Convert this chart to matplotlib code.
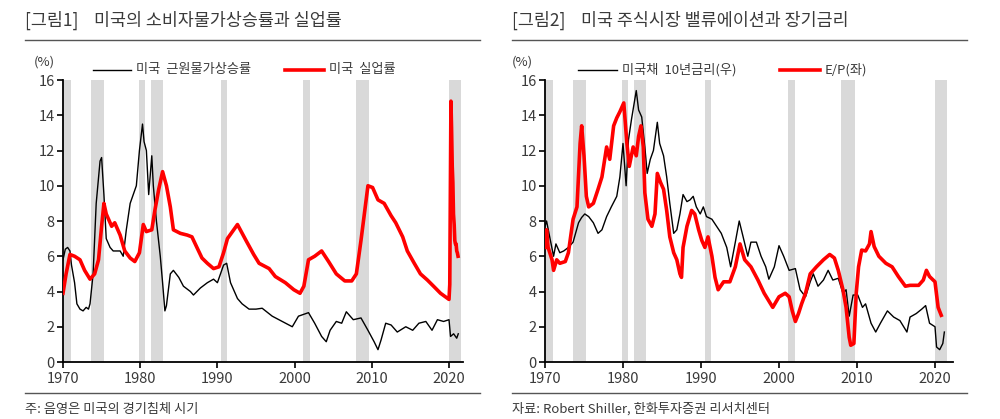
import matplotlib
matplotlib.use("Agg")
import matplotlib.pyplot as plt
from matplotlib.lines import Line2D

plt.rcParams["font.family"] = ["Noto Sans CJK KR", "DejaVu Sans"]

# US recessions (shaded)
recessions = [(1970.0, 1971.0), (1973.6, 1975.3), (1979.9, 1980.6), (1981.4, 1982.95),
              (1990.5, 1991.3), (2001.1, 2002.0), (2007.9, 2009.7), (2020.0, 2021.6)]

# [그림1] core CPI inflation (black)
cpi_years = [1970.0, 1970.3, 1970.6, 1970.9, 1971.1, 1971.5, 1971.8, 1972.2, 1972.6, 1973.0,
             1973.3, 1973.5, 1973.9, 1974.3, 1974.8, 1975.0, 1975.3, 1975.6, 1976.1, 1976.5,
             1976.9, 1977.4, 1977.8, 1978.2, 1978.7, 1979.1, 1979.5, 1979.9, 1980.3, 1980.5,
             1980.8, 1981.1, 1981.5, 1981.7, 1982.1, 1982.6, 1982.9, 1983.2, 1983.4, 1983.9,
             1984.3, 1985.0, 1985.6, 1986.5, 1986.9, 1987.8, 1988.7, 1989.5, 1990.0, 1990.4,
             1990.8, 1991.2, 1991.7, 1992.6, 1993.2, 1994.1, 1995.0, 1995.8, 1997.1, 1998.4,
             1999.7, 2000.5, 2001.8, 2002.6, 2003.5, 2004.1, 2004.6, 2005.4, 2006.1, 2006.7,
             2007.6, 2008.6, 2009.5, 2010.3, 2010.8, 2011.2, 2011.8, 2012.5, 2013.3, 2014.4,
             2015.3, 2016.1, 2017.0, 2017.8, 2018.5, 2019.3, 2020.0, 2020.2, 2020.6, 2021.0,
             2021.2]
cpi_values = [5.8, 6.4, 6.5, 6.3, 5.5, 4.5, 3.3, 3.0, 2.9, 3.1,
              3.0, 3.3, 5.0, 9.0, 11.4, 11.6, 9.5, 7.0, 6.5, 6.3,
              6.3, 6.3, 6.0, 7.5, 9.0, 9.5, 10.0, 12.0, 13.5, 12.5,
              12.0, 9.5, 11.7, 10.0, 8.0, 6.0, 4.5, 2.9, 3.2, 5.0,
              5.2, 4.8, 4.3, 4.0, 3.8, 4.2, 4.5, 4.7, 4.5, 5.0,
              5.5, 5.6, 4.5, 3.6, 3.3, 3.0, 3.0, 3.05, 2.6, 2.3,
              2.0, 2.6, 2.8, 2.2, 1.45, 1.15, 1.8, 2.3, 2.2, 2.85,
              2.4, 2.5, 1.8, 1.15, 0.7, 1.25, 2.2, 2.1, 1.7, 2.0,
              1.8, 2.2, 2.3, 1.8, 2.4, 2.3, 2.4, 1.45, 1.6, 1.35,
              1.6]

# [그림1] unemployment rate (red)
unemp_years = [1970.0, 1970.4, 1970.9, 1971.5, 1972.2, 1972.8, 1973.5, 1974.1, 1974.6, 1975.0,
               1975.3, 1975.6, 1976.3, 1976.7, 1977.4, 1978.0, 1978.7, 1979.3, 1979.9, 1980.4,
               1980.8, 1981.5, 1981.9, 1982.4, 1982.9, 1983.4, 1983.9, 1984.3, 1985.2, 1986.1,
               1986.7, 1987.4, 1988.0, 1988.7, 1989.5, 1990.2, 1990.8, 1991.3, 1992.6, 1993.7,
               1994.7, 1995.4, 1996.7, 1997.5, 1998.8, 1999.9, 2000.7, 2001.2, 2001.8, 2002.6,
               2003.5, 2004.4, 2005.4, 2006.5, 2007.4, 2008.0, 2008.6, 2009.5, 2010.1, 2010.8,
               2011.6, 2012.5, 2013.1, 2014.0, 2014.6, 2015.5, 2016.3, 2017.2, 2018.0, 2018.9,
               2020.0, 2020.1, 2020.25, 2020.33, 2020.42, 2020.5, 2020.58, 2020.67, 2020.75, 2020.83,
               2020.92, 2021.0, 2021.08, 2021.17]
unemp_values = [3.9, 5.0, 6.1, 6.0, 5.8, 5.2, 4.7, 5.0, 5.8, 7.7,
                9.0, 8.4, 7.7, 7.9, 7.2, 6.3, 5.9, 5.7, 6.2, 7.8,
                7.4, 7.5, 8.6, 9.8, 10.8, 10.0, 8.8, 7.5, 7.3, 7.2,
                7.1, 6.45, 5.9, 5.6, 5.3, 5.4, 6.2, 7.0, 7.8, 6.9,
                6.1, 5.6, 5.3, 4.85, 4.5, 4.1, 3.9, 4.3, 5.8, 6.0,
                6.3, 5.7, 5.0, 4.6, 4.6, 5.0, 6.9, 10.0, 9.9, 9.2,
                9.0, 8.3, 7.9, 7.1, 6.3, 5.6, 5.0, 4.65, 4.3, 3.9,
                3.55, 4.4, 14.8, 13.3, 11.1, 10.2, 8.4, 7.8, 6.9, 6.7,
                6.7, 6.3, 6.2, 6.0]

# [그림2] US 10-year Treasury yield (black)
ust_years = [1970.0, 1970.2, 1970.6, 1971.1, 1971.4, 1971.9, 1972.4, 1973.0, 1973.6, 1974.3,
             1974.7, 1975.1, 1975.6, 1976.2, 1976.8, 1977.3, 1977.9, 1978.5, 1979.2, 1979.6,
             1980.0, 1980.4, 1980.7, 1981.1, 1981.7, 1982.0, 1982.4, 1982.8, 1983.1, 1983.5,
             1983.9, 1984.4, 1984.7, 1985.2, 1985.6, 1986.0, 1986.5, 1986.9, 1987.3, 1987.7,
             1988.2, 1988.6, 1989.0, 1989.4, 1989.9, 1990.3, 1990.7, 1991.4, 1992.0, 1992.6,
             1993.3, 1993.8, 1994.4, 1994.9, 1995.4, 1996.0, 1996.4, 1997.1, 1997.7, 1998.3,
             1998.7, 1999.4, 2000.0, 2000.6, 2001.3, 2002.1, 2002.7, 2003.4, 2004.0, 2004.4,
             2005.0, 2005.7, 2006.3, 2006.9, 2007.6, 2008.2, 2008.6, 2009.0, 2009.5, 2010.1,
             2010.7, 2011.1, 2011.8, 2012.4, 2013.0, 2013.9, 2014.7, 2015.5, 2016.4, 2016.8,
             2017.6, 2018.3, 2018.8, 2019.3, 2020.0, 2020.2, 2020.6, 2021.0, 2021.2]
ust_values = [7.7, 8.0, 7.1, 6.0, 6.7, 6.2, 6.3, 6.5, 6.8, 7.9,
              8.2, 8.4, 8.25, 7.9, 7.3, 7.5, 8.25, 8.8, 9.4, 10.5,
              12.4, 10.0, 12.6, 13.8, 15.4, 14.3, 13.9, 12.2, 10.7, 11.5,
              12.0, 13.6, 12.4, 11.7, 10.5, 9.0, 7.3, 7.5, 8.4, 9.5,
              9.1, 9.2, 9.4, 8.8, 8.4, 8.8, 8.25, 8.1, 7.7, 7.3,
              6.5, 5.4, 6.8, 8.0, 7.1, 6.0, 6.8, 6.8, 6.0, 5.4,
              4.7, 5.4, 6.6, 6.0, 5.2, 5.3, 4.1, 3.7, 4.55, 5.0,
              4.3, 4.65, 5.2, 4.65, 4.75, 3.9, 4.1, 2.6, 3.8, 3.8,
              3.1, 3.3, 2.2, 1.7, 2.2, 2.9, 2.55, 2.35, 1.7, 2.55,
              2.75, 3.0, 3.2, 2.2, 2.0, 0.85, 0.7, 1.05, 1.7]

# [그림2] S&P 500 earnings yield E/P (red)
ep_years = [1970.0, 1970.2, 1970.4, 1970.9, 1971.1, 1971.5, 1971.9, 1972.6, 1973.0, 1973.6,
            1974.1, 1974.5, 1974.7, 1975.0, 1975.3, 1975.6, 1976.2, 1976.8, 1977.3, 1977.9,
            1978.3, 1978.8, 1979.2, 1979.6, 1980.1, 1980.5, 1980.8, 1981.3, 1981.7, 1982.0,
            1982.3, 1982.6, 1982.8, 1983.2, 1983.7, 1984.1, 1984.4, 1984.8, 1985.2, 1985.6,
            1986.0, 1986.5, 1986.9, 1987.3, 1987.5, 1987.7, 1988.2, 1988.8, 1989.2, 1989.7,
            1990.1, 1990.5, 1990.9, 1991.4, 1991.8, 1992.2, 1992.9, 1993.7, 1994.4, 1995.0,
            1995.6, 1996.4, 1997.3, 1998.1, 1999.2, 2000.0, 2000.8, 2001.3, 2001.7, 2002.1,
            2002.5, 2002.9, 2003.4, 2004.0, 2004.8, 2005.7, 2006.5, 2007.1, 2007.6, 2008.2,
            2008.6, 2009.0, 2009.2, 2009.6, 2009.9, 2010.2, 2010.6, 2011.1, 2011.6, 2011.8,
            2012.2, 2012.8, 2013.7, 2014.5, 2015.3, 2016.2, 2016.8, 2017.9, 2018.5, 2018.9,
            2019.3, 2020.0, 2020.4, 2020.8]
ep_values = [6.5, 7.5, 6.5, 5.8, 5.2, 5.8, 5.6, 5.7, 6.2, 8.1,
             8.8, 12.4, 13.4, 11.7, 9.4, 8.8, 9.0, 9.8, 10.5, 12.2,
             11.5, 13.4, 13.85, 14.2, 14.7, 12.4, 11.1, 12.2, 11.7, 12.8,
             13.4, 12.2, 9.6, 8.1, 7.7, 8.4, 10.7, 10.2, 9.8, 8.6,
             7.1, 6.2, 5.8, 5.0, 4.8, 6.5, 7.7, 8.6, 8.4, 7.5,
             6.9, 6.5, 7.1, 6.0, 4.8, 4.1, 4.55, 4.55, 5.4, 6.7,
             5.8, 5.4, 4.65, 3.9, 3.1, 3.7, 3.9, 3.7, 2.9, 2.3,
             2.75, 3.3, 3.9, 5.0, 5.4, 5.8, 6.1, 5.9, 5.2, 4.1,
             3.1, 1.4, 0.95, 1.05, 3.9, 5.4, 6.35, 6.3, 6.7, 7.4,
             6.55, 6.0, 5.6, 5.4, 4.85, 4.3, 4.35, 4.35, 4.65, 5.2,
             4.85, 4.55, 3.1, 2.65]

yticks = [0, 2, 4, 6, 8, 10, 12, 14, 16]
xticks = [1970, 1980, 1990, 2000, 2010, 2020]

W, H = 1000, 419
TEXT = "#3a3a3a"
RED = "#ff0000"
BAND = "#d9d9d9"


def fx(px):
    return px / W


def fy(py):
    return 1 - py / H


def style_axis(ax, x_end):
    for y0, y1 in recessions:
        ax.axvspan(y0, y1, color=BAND, lw=0, zorder=0)
    ax.set_xlim(1970, x_end)
    ax.set_ylim(0, 16)
    ax.set_xticks(xticks)
    ax.set_yticks(yticks)
    ax.spines["top"].set_visible(False)
    ax.spines["right"].set_visible(False)
    ax.spines["left"].set_linewidth(1.3)
    ax.spines["bottom"].set_linewidth(1.3)
    ax.tick_params(axis="both", direction="out", length=4, width=1.2,
                   labelsize=10.5, labelcolor=TEXT, pad=2)
    ax.tick_params(axis="x", pad=3)
    ax.patch.set_alpha(0)


def header(x0, x1, title, note):
    fig.text(fx(x0), fy(20), title, fontsize=12.5, color=TEXT, va="center", ha="left")
    fig.add_artist(Line2D([fx(x0), fx(x1)], [fy(40), fy(40)], color="#555555", lw=1))
    fig.add_artist(Line2D([fx(x0), fx(x1)], [fy(393), fy(393)], color="#555555", lw=1))
    fig.text(fx(x0), fy(409), note, fontsize=9.5, color=TEXT, va="center", ha="left")


def legend_item(x0, x1, label, color, lw):
    fig.add_artist(Line2D([fx(x0), fx(x1)], [fy(70), fy(70)], color=color, lw=lw))
    fig.text(fx(x1 + 5), fy(70), label, fontsize=9.5, color=TEXT, va="center", ha="left")


fig = plt.figure(figsize=(10, 4.19), dpi=100)

# left panel
ax1 = fig.add_axes([fx(63), fy(362), fx(400), 282 / H])
style_axis(ax1, 1970 + 400 / 7.72)
ax1.plot(cpi_years, cpi_values, color="black", lw=1.0, zorder=2)
ax1.plot(unemp_years, unemp_values, color=RED, lw=2.6, zorder=3)
fig.text(fx(44), fy(62), "(%)", fontsize=9.5, color=TEXT, va="center", ha="center")
header(25, 480, "[그림1]    미국의 소비자물가상승률과 실업률", "주: 음영은 미국의 경기침체 시기")
legend_item(93, 131, "미국  근원물가상승률", "black", 1.0)
legend_item(285, 324, "미국  실업률", RED, 2.6)

# right panel
ax2 = fig.add_axes([fx(545), fy(362), fx(408), 282 / H])
style_axis(ax2, 1970 + 408 / 7.8)
ax2.plot(ust_years, ust_values, color="black", lw=1.0, zorder=2)
ax2.plot(ep_years, ep_values, color=RED, lw=2.6, zorder=3)
fig.text(fx(522), fy(62), "(%)", fontsize=9.5, color=TEXT, va="center", ha="center")
header(512, 967, "[그림2]    미국 주식시장 밸류에이션과 장기금리", "자료: Robert Shiller, 한화투자증권 리서치센터")
legend_item(578, 617, "미국채  10년금리(우)", "black", 1.0)
legend_item(780, 820, "E/P(좌)", RED, 2.6)

fig.savefig("out.png", dpi=100)
